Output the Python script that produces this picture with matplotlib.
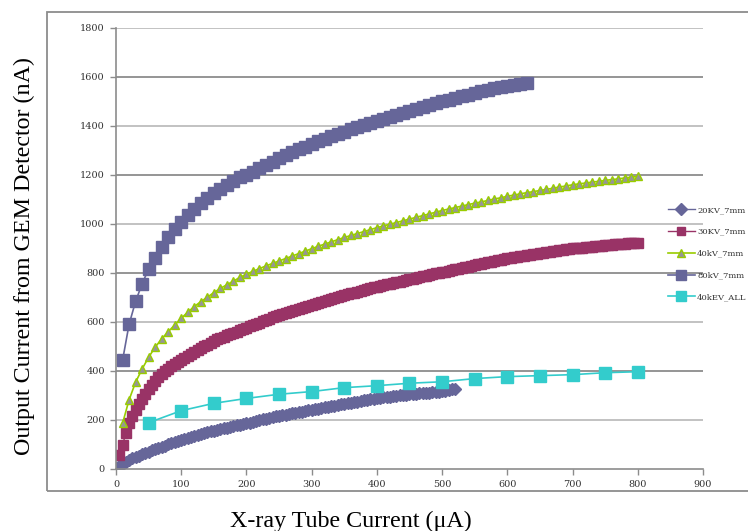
import numpy as np
import matplotlib.pyplot as plt
from matplotlib.patches import Rectangle

# X-ray tube current (uA) for each series
x_20kv = np.arange(0, 521, 5)
x_30kv = np.arange(5, 801, 5)
x_40kv = np.arange(10, 801, 10)
x_80kv = np.arange(10, 631, 10)
x_40kev_all = np.arange(50, 801, 50)

# output current from the GEM detector (nA)
y_20kv = [5, 14, 22, 29, 37, 44, 50, 55, 60, 66, 71, 76, 81, 86, 91, 95, 100, 105, 109, 114,
          118, 122, 126, 130, 134, 138, 142, 146, 150, 154, 157, 160, 163, 166, 169, 172, 175, 178, 181, 183,
          186, 189, 193, 196, 199, 202, 205, 208, 212, 215, 218, 220, 222, 225, 227, 229, 232, 234, 236, 239,
          241, 244, 246, 249, 251, 254, 257, 259, 262, 264, 267, 269, 271, 273, 275, 278, 280, 282, 284, 286,
          288, 290, 292, 293, 295, 297, 298, 300, 302, 303, 305, 306, 307, 309, 310, 311, 312, 314, 315, 316,
          318, 320, 322, 325, 328]
y_30kv = [57, 98, 145, 186, 215, 241, 265, 287, 308, 327, 344, 360, 374, 387, 398, 409, 419, 428, 437, 445,
          454, 462, 470, 478, 485, 493, 501, 508, 516, 523, 529, 534, 540, 545, 550, 556, 561, 567, 572, 577,
          582, 587, 592, 597, 602, 608, 614, 619, 625, 630, 634, 638, 642, 646, 650, 654, 658, 662, 666, 670,
          674, 678, 682, 686, 690, 694, 698, 702, 706, 710, 713, 717, 720, 724, 727, 731, 734, 738, 741, 744,
          747, 750, 753, 756, 759, 762, 765, 768, 771, 774, 777, 780, 783, 786, 789, 792, 795, 798, 800, 803,
          806, 809, 812, 815, 818, 820, 823, 826, 829, 832, 835, 837, 840, 843, 846, 849, 852, 854, 857, 860,
          862, 864, 866, 868, 870, 872, 874, 876, 878, 880, 882, 884, 886, 888, 890, 892, 894, 896, 898, 900,
          901, 903, 904, 905, 906, 908, 909, 910, 912, 913, 914, 915, 917, 918, 919, 920, 921, 922, 923, 924]
y_40kv = [186, 282, 354, 408, 456, 497, 531, 560, 588, 615,
          640, 663, 683, 701, 720, 737, 752, 767, 782, 795,
          807, 818, 829, 839, 849, 859, 869, 879, 889, 899,
          909, 918, 927, 936, 945, 953, 961, 969, 977, 985,
          992, 999, 1006, 1013, 1020, 1027, 1034, 1041, 1048, 1055,
          1061, 1067, 1073, 1079, 1085, 1090, 1096, 1102, 1107, 1113,
          1118, 1123, 1128, 1132, 1137, 1141, 1146, 1151, 1155, 1160,
          1164, 1167, 1171, 1174, 1178, 1181, 1184, 1188, 1191, 1194]
y_80kv = [443, 590, 684, 756, 816, 863, 907, 948, 980, 1008,
          1036, 1062, 1085, 1106, 1126, 1144, 1160, 1176, 1190, 1200,
          1214, 1228, 1242, 1255, 1268, 1281, 1293, 1305, 1316, 1327,
          1338, 1348, 1358, 1367, 1376, 1386, 1395, 1404, 1413, 1422,
          1430, 1438, 1446, 1454, 1462, 1470, 1477, 1485, 1492, 1500,
          1507, 1514, 1521, 1528, 1535, 1541, 1547, 1553, 1558, 1563,
          1567, 1571, 1575]
y_40kev_all = [189, 238, 268, 288, 305, 316, 332, 340, 350, 356, 369, 377, 381, 385, 393, 397]

labels = ['20KV_7mm', '30KV_7mm', '40kV_7mm', '80kV_7mm', '40kEV_ALL']

slate = '#666699'
maroon = '#993366'
lime = '#99CC00'
cyan = '#33CCCC'

fig = plt.figure(figsize=(7.48, 5.31), dpi=100)
ax = fig.add_axes([0.1551, 0.1168, 0.7847, 0.8305])

ax.plot(x_20kv, y_20kv, color=slate, lw=1, marker='D', ms=6.3, mfc=slate, mec=slate, label=labels[0])
ax.plot(x_30kv, y_30kv, color=maroon, lw=1, marker='s', ms=7, mfc=maroon, mec=maroon, label=labels[1])
ax.plot(x_40kv, y_40kv, color=lime, lw=1.2, marker='^', ms=6, mfc='#969696', mec=lime, mew=1, label=labels[2])
ax.plot(x_80kv, y_80kv, color=slate, lw=1.2, marker='s', ms=8.3, mfc=slate, mec=slate, label=labels[3])
ax.plot(x_40kev_all, y_40kev_all, color=cyan, lw=1.2, marker='s', ms=8.5, mfc=cyan, mec=cyan, label=labels[4])

ax.set_xlim(0, 900)
ax.set_ylim(0, 1800)
ax.set_xticks(np.arange(0, 901, 100))
ax.set_yticks(np.arange(0, 1801, 200))
for yv in np.arange(200, 1801, 200):
    ax.axhline(yv, color='#8c8c8c' if yv % 400 == 0 else '#bdbdbd', lw=1.3, zorder=0)

for side in ['top', 'right']:
    ax.spines[side].set_visible(False)
for side in ['left', 'bottom']:
    ax.spines[side].set_color('#8c8c8c')
    ax.spines[side].set_linewidth(1.2)
ax.tick_params(direction='out', length=4, width=1, color='#8c8c8c', labelcolor='#333333', labelsize=7, pad=4)
for lab in ax.get_xticklabels() + ax.get_yticklabels():
    lab.set_fontfamily('DejaVu Serif')

ax.set_xlabel('X-ray Tube Current (\u03bcA)', family='Liberation Serif', fontsize=17.3)
ax.set_ylabel('Output Current from GEM Detector (nA)', family='Liberation Serif', fontsize=17.3)
ax.xaxis.set_label_coords(0.40, -0.095)
ax.yaxis.set_label_coords(-0.138, 0.482)

leg = fig.legend(loc='upper left', bbox_to_anchor=(668 / 748, 1 - 206 / 531), frameon=False,
                 prop={'family': 'DejaVu Serif', 'size': 6}, handlelength=3.2, handletextpad=0.3,
                 labelspacing=1.66, borderpad=0, borderaxespad=0, markerscale=0.9)
for t in leg.get_texts():
    t.set_color('#333333')

# outer chart frame
fig.patches.append(Rectangle((47 / 748, 1 - 491 / 531), 1.0, (491 - 12) / 531, transform=fig.transFigure,
                             fill=False, edgecolor='#8c8c8c', lw=1.3))

fig.savefig('out.png', dpi=100)
